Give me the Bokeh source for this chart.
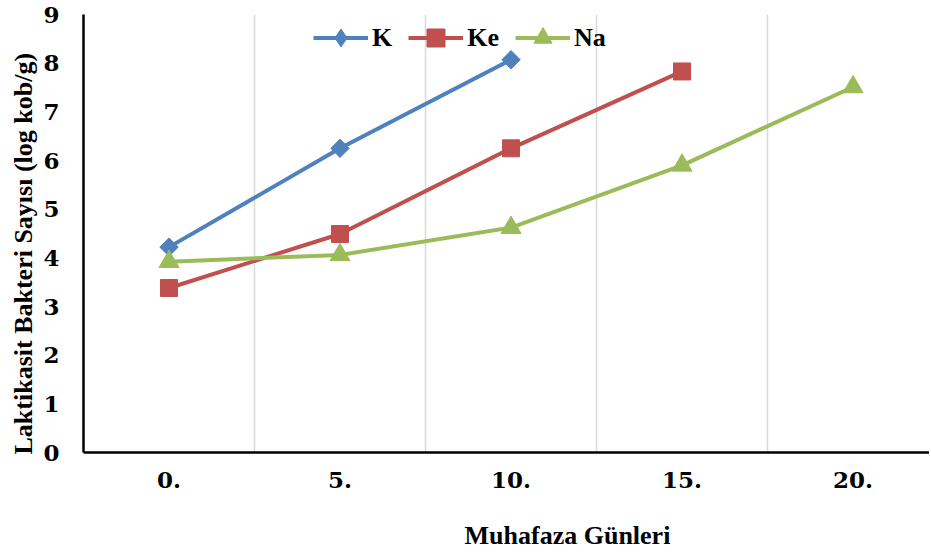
import math
from bokeh.plotting import figure
from bokeh.models import FixedTicker, Title, Legend, Range1d, LinearAxis
from bokeh.embed import file_html
from bokeh.resources import INLINE

# ---- data ----
categories = ["0.", "5.", "10.", "15.", "20."]
k_vals = [4.22, 6.25, 8.07]
ke_vals = [3.38, 4.49, 6.25, 7.83]
na_vals = [3.92, 4.06, 4.62, 5.90, 7.51]
y_ticks = [0, 1, 2, 3, 4, 5, 6, 7, 8, 9]
x_title = "Muhafaza Günleri"
y_title = "Laktikasit Bakteri Sayısı (log kob/g)"

FONT = "Liberation Serif"
TICK_FONT = "DejaVu Serif"
BLUE = "#4F81BD"
RED = "#C0504D"
GREEN = "#9BBB59"

p = figure(width=929, height=552, output_backend="svg", toolbar_location=None,
           x_range=Range1d(-0.5, 4.447), y_range=Range1d(0, 9),
           min_border_left=83, min_border_top=14, min_border_right=0,
           min_border_bottom=99)
p.outline_line_color = None
p.background_fill_color = "white"
p.border_fill_color = "white"

pos = list(range(len(categories)))

# grid
p.ygrid.visible = False
p.xgrid.ticker = FixedTicker(ticks=[i + 0.5 for i in pos[:-1]])
p.xgrid.grid_line_color = "#D9D9D9"
p.xgrid.grid_line_width = 1.5

# axes
for ax in (p.xaxis[0], p.yaxis[0]):
    ax.axis_line_color = "black"
    ax.axis_line_width = 2.5
    ax.major_tick_line_color = None
    ax.minor_tick_line_color = None
    ax.major_label_text_font = TICK_FONT
    ax.major_label_text_font_style = "bold"
    ax.major_label_text_font_size = "23px"
    ax.major_label_text_color = "black"

p.xaxis.ticker = FixedTicker(ticks=pos)
p.xaxis.major_label_overrides = {i: c for i, c in zip(pos, categories)}
p.xaxis.major_label_standoff = 13
p.yaxis.ticker = FixedTicker(ticks=y_ticks)
p.yaxis.major_label_standoff = 18

# x axis title: a bare second axis whose single label sits right of centre
title_x = 2.33
title_axis = LinearAxis(ticker=FixedTicker(ticks=[title_x]),
                        major_label_overrides={title_x: x_title},
                        axis_line_color=None, major_tick_line_color=None,
                        minor_tick_line_color=None, major_label_standoff=24,
                        major_label_text_font=FONT,
                        major_label_text_font_style="bold",
                        major_label_text_font_size="26px",
                        major_label_text_color="black")
p.add_layout(title_axis, "below")

p.add_layout(Title(text=y_title, align="left", offset=-2, text_font=FONT,
                   text_font_style="bold", text_font_size="26px",
                   text_color="black", standoff=6), "left")

# series
lk = p.line(pos[:len(k_vals)], k_vals, line_color=BLUE, line_width=4)
sk_leg = p.scatter(pos[:len(k_vals)], k_vals, marker="diamond", size=13,
                   fill_color=BLUE, line_color=BLUE)
sk = p.scatter(pos[:len(k_vals)], k_vals, marker="square", angle=math.pi / 4,
               size=13, fill_color=BLUE, line_color=BLUE)
lke = p.line(pos[:len(ke_vals)], ke_vals, line_color=RED, line_width=4)
ske = p.scatter(pos[:len(ke_vals)], ke_vals, marker="square", size=17,
                fill_color=RED, line_color=RED)
lna = p.line(pos[:len(na_vals)], na_vals, line_color=GREEN, line_width=4)
sna = p.scatter(pos[:len(na_vals)], na_vals, marker="triangle", size=20,
                fill_color=GREEN, line_color=GREEN)

legend = Legend(items=[("K", [lk, sk_leg]), ("Ke", [lke, ske]), ("Na", [lna, sna])],
                orientation="horizontal", location=(230, 392),
                label_text_font=FONT, label_text_font_style="bold",
                label_text_font_size="26px", label_text_color="black",
                glyph_width=55, glyph_height=45, label_standoff=4, spacing=16,
                padding=0, margin=0, background_fill_alpha=0,
                border_line_alpha=0)
p.add_layout(legend, "center")

open("out.html", "w").write(file_html(p, INLINE))
